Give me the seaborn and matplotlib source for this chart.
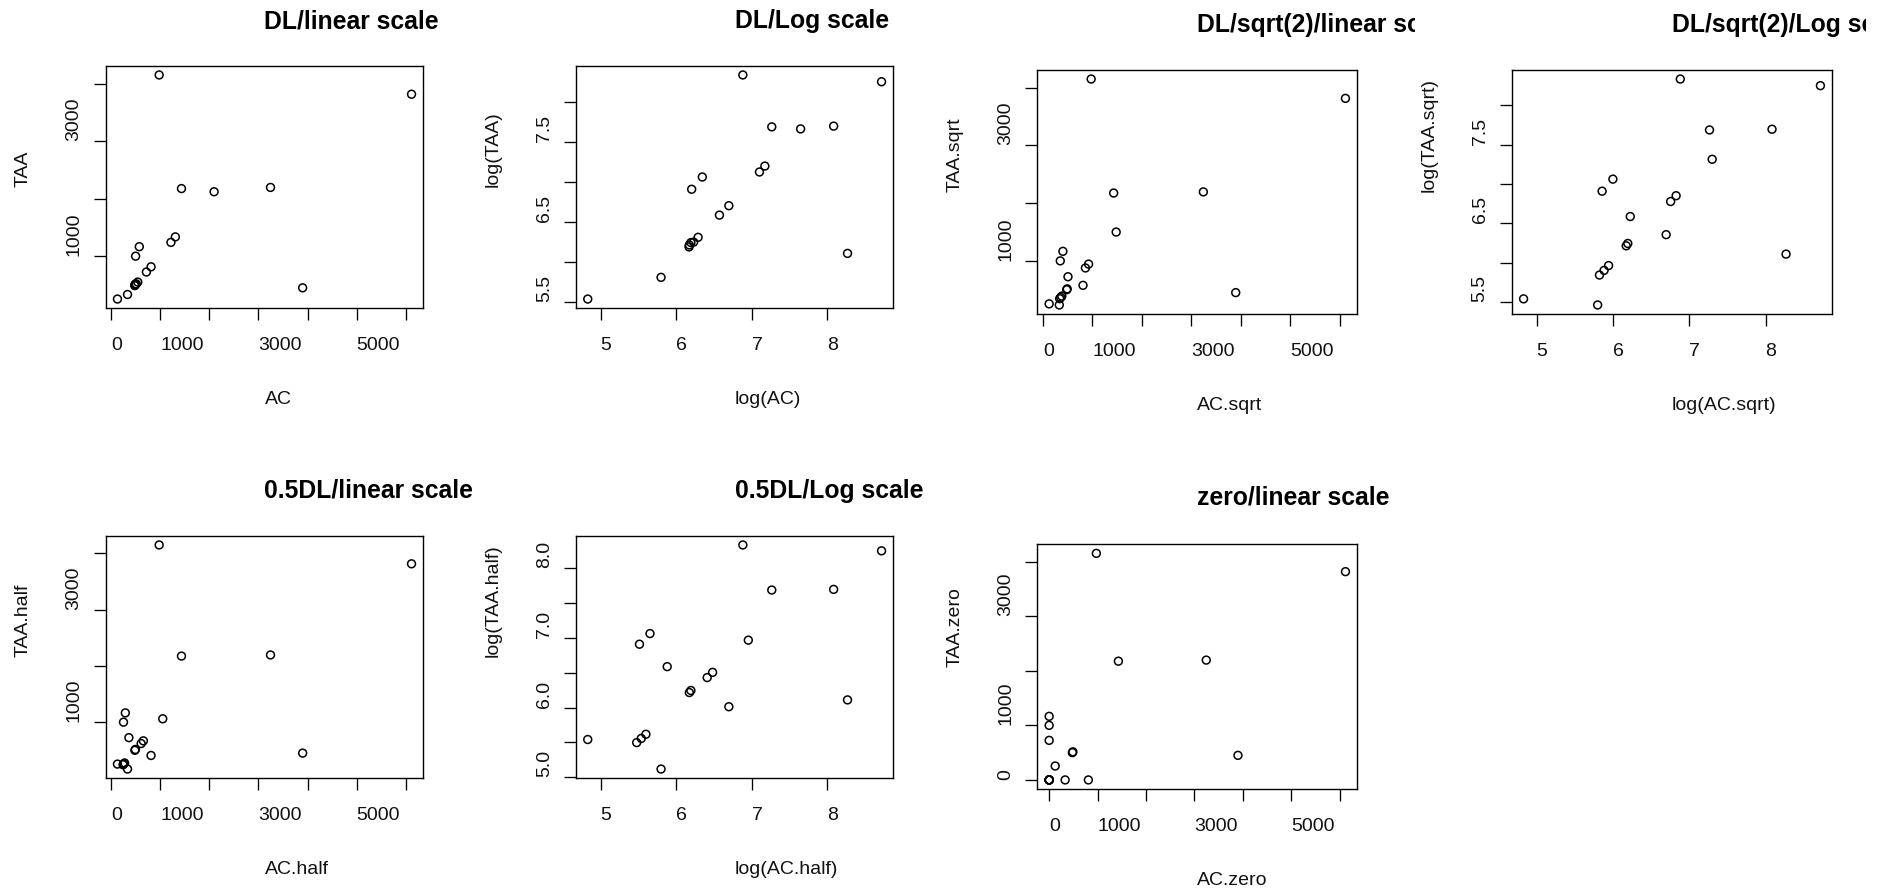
import numpy as np
import pandas as pd
import matplotlib
matplotlib.use("Agg")
import matplotlib.pyplot as plt
import seaborn as sns
from matplotlib.ticker import FixedLocator, FixedFormatter
from matplotlib.transforms import Bbox, TransformedBbox

# ---------------- data (19 samples) ----------------
AC = [125, 330, 478, 508, 539, 495, 570, 480, 490, 715, 810, 1215, 1305, 975, 1430, 2095, 3245, 3900, 6120]
TAA = [255, 334, 488, 518, 550, 1000, 1165, 500, 515, 725, 815, 1240, 1335, 4150, 2175, 2120, 2195, 450, 3815]

AC_sqrt = [125, 330, 338, 359, 381, 350, 403, 480, 490, 506, 810, 859, 923, 975, 1430, 1481, 3245, 3900, 6120]
TAA_sqrt = [255, 236, 345, 366, 389, 1000, 1165, 500, 515, 725, 576, 877, 944, 4150, 2175, 1499, 2195, 450, 3815]

AC_half = [125, 330, 239, 254, 270, 248, 285, 480, 490, 358, 810, 608, 653, 975, 1430, 1048, 3245, 3900, 6120]
TAA_half = [255, 167, 244, 259, 275, 1000, 1165, 500, 515, 725, 408, 620, 668, 4150, 2175, 1060, 2195, 450, 3815]

AC_zero = [125, 330, 0, 0, 0, 0, 0, 480, 490, 0, 810, 0, 0, 975, 1430, 0, 3245, 3900, 6120]
TAA_zero = [255, 0, 0, 0, 0, 1000, 1165, 500, 515, 725, 0, 0, 0, 4150, 2175, 0, 2195, 450, 3815]

titles = ["DL/linear scale", "DL/Log scale", "DL/sqrt(2)/linear scale", "DL/sqrt(2)/Log scale",
          "0.5DL/linear scale", "0.5DL/Log scale", "zero/linear scale"]
xlabels = ["AC", "log(AC)", "AC.sqrt", "log(AC.sqrt)", "AC.half", "log(AC.half)", "AC.zero"]
ylabels = ["TAA", "log(TAA)", "TAA.sqrt", "log(TAA.sqrt)", "TAA.half", "log(TAA.half)", "TAA.zero"]

lin_ticks = [0, 1000, 2000, 3000, 4000, 5000, 6000]
lin_xlabels = ["0", "1000", "", "3000", "", "5000", ""]
lin_yticks = [0, 1000, 2000, 3000, 4000]
lin_ylabels = ["0", "1000", "", "3000", ""]
log_xticks = [5, 6, 7, 8]
log_xlabels = ["5", "6", "7", "8"]
log_yticks = [5.0, 5.5, 6.0, 6.5, 7.0, 7.5, 8.0]
log_ylabels_a = ["", "5.5", "", "6.5", "", "7.5", ""]
log_ylabels_b = ["5.0", "", "6.0", "", "7.0", "", "8.0"]

# ---------------- layout ----------------
W, H = 1890, 893
plt.rcParams['font.family'] = ['Liberation Sans', 'DejaVu Sans']
fig = plt.figure(figsize=(W / 100, H / 100), dpi=100)

boxes = [(105.7, 66, 423.3, 308), (576, 66, 893.3, 308), (1037.3, 70, 1357.3, 314),
         (1511.7, 70, 1832.3, 314), (105.7, 536, 423.3, 778), (576, 536, 893.3, 778),
         (1037.3, 544.3, 1357.3, 789)]
clip_right = [472, 945, 1415, 1866, 472, 945, 1415]

panels = [
    (AC, TAA, False, log_ylabels_a),
    (AC, TAA, True, log_ylabels_a),
    (AC_sqrt, TAA_sqrt, False, log_ylabels_a),
    (AC_sqrt, TAA_sqrt, True, log_ylabels_a),
    (AC_half, TAA_half, False, log_ylabels_a),
    (AC_half, TAA_half, True, log_ylabels_b),
    (AC_zero, TAA_zero, False, log_ylabels_a),
]

def rlim(v):
    lo, hi = float(np.min(v)), float(np.max(v))
    d = 0.04 * (hi - lo)
    return lo - d, hi + d

for i, (xv, yv, is_log, logylab) in enumerate(panels):
    l, t, r, b = boxes[i]
    ax = fig.add_axes([l / W, 1 - b / H, (r - l) / W, (b - t) / H])
    x = np.log(np.array(xv, float)) if is_log else np.array(xv, float)
    y = np.log(np.array(yv, float)) if is_log else np.array(yv, float)
    df = pd.DataFrame({"x": x, "y": y})
    sns.scatterplot(data=df, x="x", y="y", ax=ax, marker="o", s=32,
                    color="black", facecolor="none", edgecolor="black", linewidth=1.1)
    ax.set_xlim(*rlim(x))
    ax.set_ylim(*rlim(y))
    if is_log:
        xt, xl, yt, yl = log_xticks, log_xlabels, log_yticks, logylab
    else:
        xt, xl, yt, yl = lin_ticks, lin_xlabels, lin_yticks, lin_ylabels
    ax.xaxis.set_major_locator(FixedLocator(xt))
    ax.xaxis.set_major_formatter(FixedFormatter(xl))
    ax.yaxis.set_major_locator(FixedLocator(yt))
    ax.yaxis.set_major_formatter(FixedFormatter(yl))
    ax.tick_params(axis="both", direction="out", length=8.6, width=0.95, color="black",
                   labelsize=14, labelcolor="#111111")
    ax.tick_params(axis="x", pad=12)
    ax.tick_params(axis="y", pad=8)
    for lbl in ax.get_xticklabels():
        lbl.set_ha("left")
    for lbl in ax.get_yticklabels():
        lbl.set_rotation(90)
        lbl.set_va("bottom")
        lbl.set_ha("right")
    for sp in ax.spines.values():
        sp.set_linewidth(1.0)
        sp.set_color("black")
    ax.set_facecolor("white")

    hpx = b - t
    wpx = r - l
    ax.set_xlabel(xlabels[i], fontsize=14, color="#111111")
    ax.xaxis.label.set_ha("left")
    ax.xaxis.label.set_va("baseline")
    ax.xaxis.set_label_coords(0.5, -96 / hpx)
    ax.set_ylabel(ylabels[i], fontsize=14, color="#111111")
    ax.yaxis.label.set_rotation_mode("anchor")
    ax.yaxis.label.set_ha("left")
    ax.yaxis.label.set_va("baseline")
    ax.yaxis.set_label_coords(-78 / wpx, 0.5)

    title_off = 40 if i == 6 else 38
    tt = ax.text(0.5, 1 + title_off / hpx, titles[i], transform=ax.transAxes,
                 ha="left", va="baseline", fontsize=17.8, fontweight="bold", color="black")
    clip = TransformedBbox(Bbox([[0, 0], [clip_right[i] / W, 1]]), fig.transFigure)
    tt.set_clip_box(clip)
    tt.set_clip_on(True)

fig.savefig("out.png", dpi=100, facecolor="white")
